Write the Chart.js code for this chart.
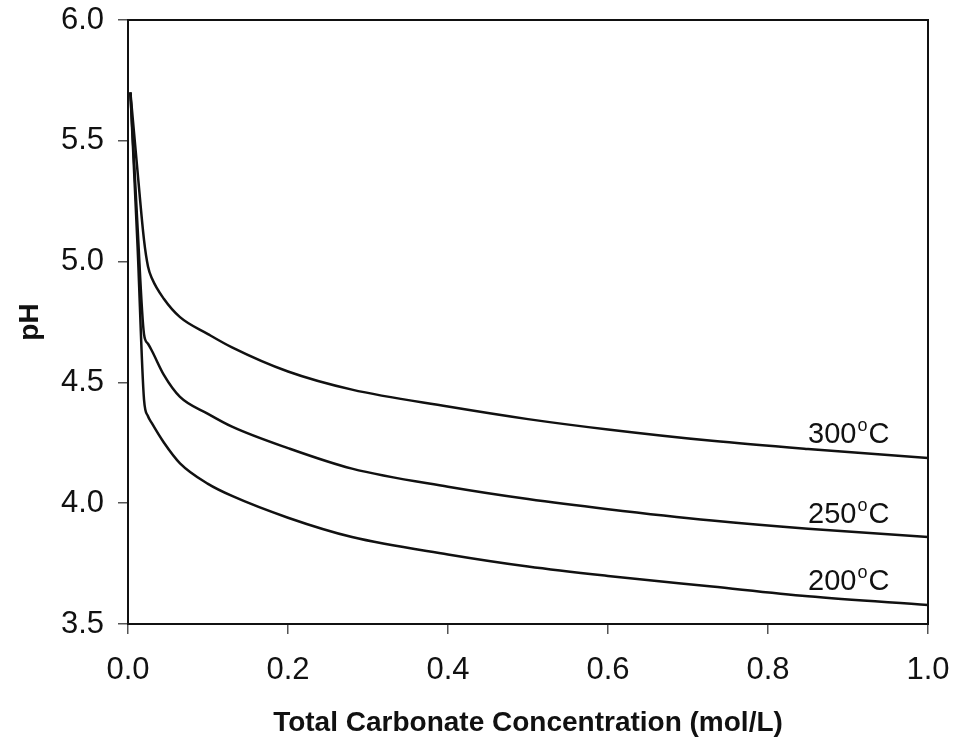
<!DOCTYPE html>
<html>
<head>
<meta charset="utf-8">
<script src="https://cdn.jsdelivr.net/npm/chart.js@4"></script>
<style>
  html, body { margin: 0; padding: 0; background: #fff; }
  #wrap { width: 953px; height: 744px; }
</style>
</head>
<body>
<div id="wrap"><canvas id="chart"></canvas></div>
<script>
// total carbonate (mol/L), shared by the three curves
const conc  = [0.003, 0.012, 0.02, 0.025, 0.03, 0.045, 0.065, 0.1, 0.13, 0.2, 0.28, 0.4, 0.5, 0.6, 0.73, 0.85, 1.0];
const ph300 = [5.70, 5.37, 5.09, 4.98, 4.93, 4.845, 4.77, 4.70, 4.645, 4.545, 4.47, 4.40, 4.348, 4.305, 4.258, 4.224, 4.187];
const ph250 = [5.70, 5.14, 4.70, 4.66, 4.63, 4.53, 4.44, 4.37, 4.317, 4.228, 4.143, 4.068, 4.017, 3.975, 3.928, 3.894, 3.860];
const ph200 = [5.70, 5.06, 4.43, 4.36, 4.33, 4.25, 4.165, 4.08, 4.03, 3.94, 3.86, 3.788, 3.738, 3.699, 3.655, 3.615, 3.579];
const temps = ['300', '250', '200'];
const xTicks = [0, 0.2, 0.4, 0.6, 0.8, 1.0];
const yTicks = [3.5, 4.0, 4.5, 5.0, 5.5, 6.0];

const FONT = "'Liberation Sans', Arial, sans-serif";
const toPts = ys => conc.map((x, i) => ({ x, y: ys[i] }));

// frame round the plot area
const boxPlugin = {
  id: 'box',
  afterDraw(chart) {
    const { ctx, chartArea: a } = chart;
    ctx.save();
    ctx.strokeStyle = '#111';
    ctx.lineWidth = 2;
    ctx.strokeRect(a.left, a.top, a.right - a.left, a.bottom - a.top);
    ctx.restore();
  }
};

// "300°C" style labels sitting just above each curve near the right end
const tempLabels = {
  id: 'tempLabels',
  afterDatasetsDraw(chart) {
    const ctx = chart.ctx;
    const idx = conc.indexOf(0.85);
    ctx.save();
    ctx.fillStyle = '#111';
    ctx.textBaseline = 'alphabetic';
    temps.forEach((t, i) => {
      const pt = chart.getDatasetMeta(i).data[idx];
      let x = pt.x, y = pt.y - 6;
      ctx.font = `29px ${FONT}`;
      ctx.fillText(t, x, y);
      x += ctx.measureText(t).width + 1;
      ctx.font = `18px ${FONT}`;
      ctx.fillText('o', x, y - 12);
      x += ctx.measureText('o').width + 1;
      ctx.font = `29px ${FONT}`;
      ctx.fillText('C', x, y);
    });
    ctx.restore();
  }
};

const line = ys => ({
  data: toPts(ys),
  borderColor: '#111',
  borderWidth: 2.5,
  pointRadius: 0,
  fill: false,
  cubicInterpolationMode: 'monotone'
});

new Chart(document.getElementById('chart'), {
  type: 'line',
  data: { datasets: [line(ph300), line(ph250), line(ph200)] },
  options: {
    responsive: true,
    maintainAspectRatio: false,
    animation: false,
    layout: { padding: { top: 20, right: 25, left: 0, bottom: 0 } },
    plugins: { legend: { display: false }, tooltip: { enabled: false } },
    scales: {
      x: {
        type: 'linear',
        min: 0, max: 1,
        afterBuildTicks: s => { s.ticks = xTicks.map(v => ({ value: v })); },
        afterFit: s => { s.height = 120; s.paddingLeft = 0; s.paddingRight = 0; },
        ticks: {
          callback: v => v.toFixed(1),
          font: { family: FONT, size: 31 },
          color: '#111',
          padding: 18,
          maxRotation: 0
        },
        grid: { drawOnChartArea: false, drawTicks: true, tickLength: 10, color: '#555', lineWidth: 1.5 },
        border: { display: true, color: '#111', width: 2 },
        title: {
          display: true,
          text: 'Total Carbonate Concentration (mol/L)',
          font: { family: FONT, size: 28, weight: 'bold' },
          color: '#111',
          padding: { top: 0, bottom: 4 }
        }
      },
      y: {
        type: 'linear',
        min: 3.5, max: 6,
        afterBuildTicks: s => { s.ticks = yTicks.map(v => ({ value: v })); },
        afterFit: s => { s.width = 128; s.paddingTop = 0; s.paddingBottom = 0; },
        ticks: {
          callback: v => v.toFixed(1),
          font: { family: FONT, size: 31 },
          color: '#111',
          padding: 14
        },
        grid: { drawOnChartArea: false, drawTicks: true, tickLength: 10, color: '#555', lineWidth: 1.5 },
        border: { display: true, color: '#111', width: 2 },
        title: {
          display: true,
          text: 'pH',
          font: { family: FONT, size: 28, weight: 'bold' },
          color: '#111',
          padding: { top: 13, bottom: 0 }
        }
      }
    }
  },
  plugins: [boxPlugin, tempLabels]
});
</script>
</body>
</html>
